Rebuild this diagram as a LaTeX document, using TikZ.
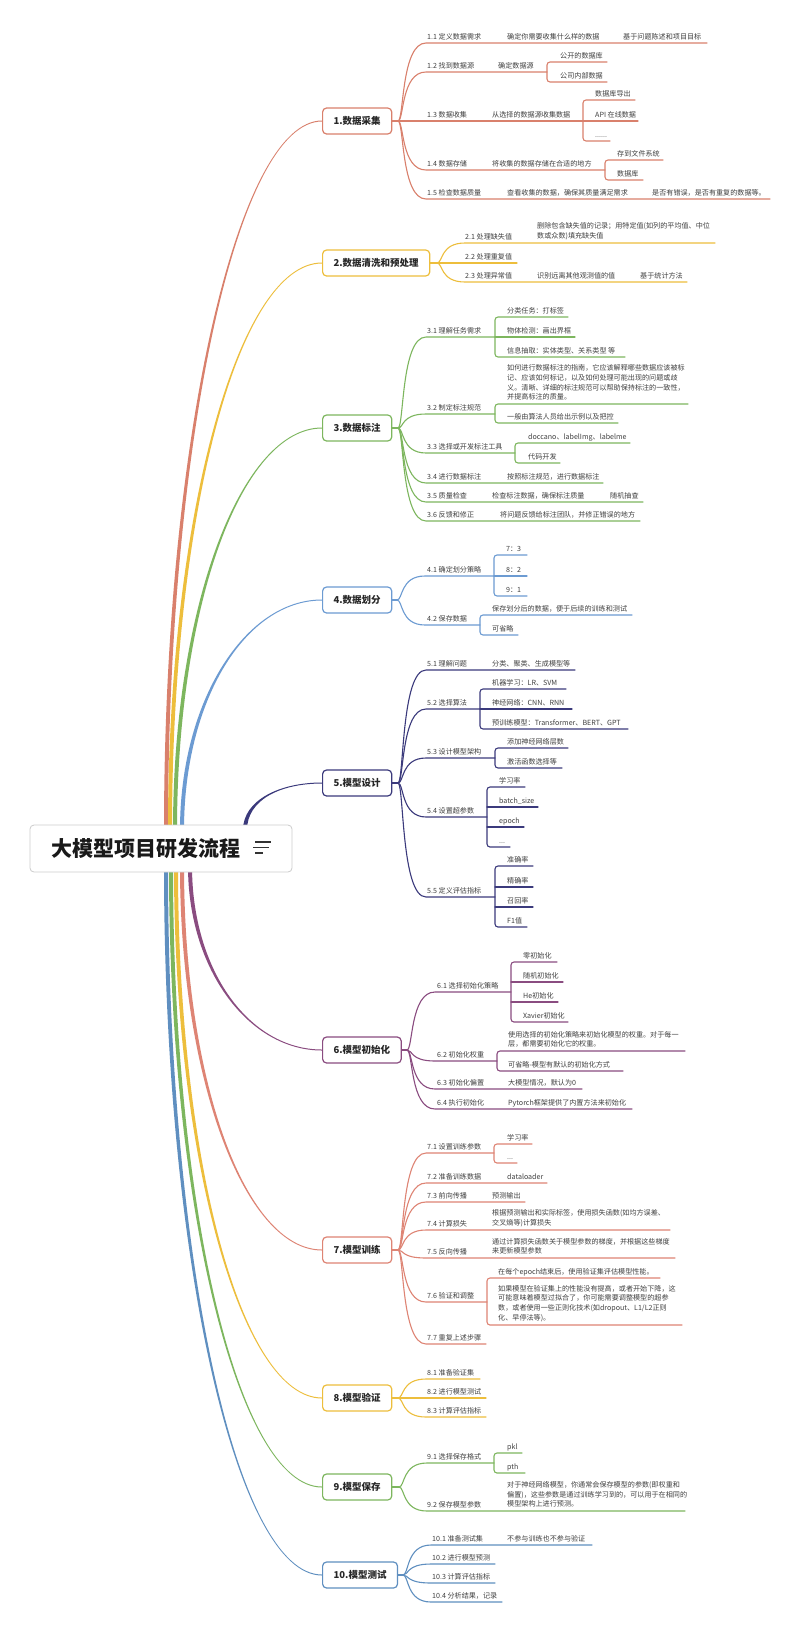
\documentclass[tikz,border=0pt]{standalone}
\usepackage{fontspec}
\setmainfont{Noto Sans CJK SC}
\usetikzlibrary{calc}
\definecolor{ca}{HTML}{D9806C}
\definecolor{cb}{HTML}{EDBE3C}
\definecolor{cc}{HTML}{7DB65E}
\definecolor{cd}{HTML}{6C9BD2}
\definecolor{ce}{HTML}{3B3A7C}
\definecolor{cf}{HTML}{8A4C80}
\definecolor{cg}{HTML}{DE8474}
\definecolor{ch}{HTML}{EDBE3C}
\definecolor{ci}{HTML}{7DB65E}
\definecolor{cj}{HTML}{5F8FC0}
\definecolor{txtc}{HTML}{404040}
\newcounter{tn}
\newcommand\mmBc[5]{\draw[ln,#1] ({#2},{#3}) .. controls ({#2+6},{#3}) and ({#2+3},{#4}) .. ({#2+28},{#4}) -- ({#5},{#4});}
\newcommand\mmBk[6]{\draw[ln,#1,rounded corners=3pt] ({#5},{#3}) -- ({#2},{#3}) -- ({#2},{#4}) -- ({#6},{#4});}
\newcommand\mmHl[4]{\draw[ln,#1] ({#2},{#4}) -- ({#3},{#4});}
\newcommand\mmTx[3]{\stepcounter{tn}\node[leaf] (t\thetn) at ({#1},{#2-4}) {#3};}
\newcommand\mmPx[3]{\stepcounter{tn}\node[para] (t\thetn) at ({#1},{#2-3.3}) {#3};}
\newcommand\mmCurve[8]{\fill[#1] ({#2-2},{#3}) .. controls ({#2-2},{#4}) and ({#5},{#6-(#8)}) .. ({#7},{#6-(#8)}) -- ({#7},{#6+(#8)}) .. controls ({#5},{#6+(#8)}) and ({#2+2},{#4}) .. ({#2+2},{#3}) -- cycle;}
\begin{document}
\begin{tikzpicture}[x=1pt,y=-1pt,
  leaf/.style={anchor=base west, inner sep=0pt, font=\fontsize{7.1}{9.7}\selectfont, text=txtc},
  para/.style={anchor=south west, inner sep=0pt, align=left, font=\fontsize{7.1}{9.7}\selectfont, text=txtc},
  ln/.style={line width=1.1pt, line cap=round},
  sbox/.style={draw=#1, line width=1.2pt, rounded corners=4pt, fill=white, minimum height=26pt, inner xsep=11pt, inner ysep=0pt, anchor=west, font=\fontsize{9.5}{11}\selectfont\bfseries, text=black!85}]
\fill[white] (0,0) rectangle (800,1633);
\useasboundingbox (0,0) rectangle (800,1633);

% main curves
\mmCurve{ca}{166}{830}{438}{238}{121}{322}{0.5}
\mmCurve{cb}{170}{830}{516}{238}{263}{322}{0.5}
\mmCurve{cc}{175}{830}{607}{241}{428}{322}{0.5}
\mmCurve{cd}{182}{830}{701}{245}{600}{322}{0.5}
\mmCurve{ce}{245}{830}{800}{280}{783}{322}{0.5}
\mmCurve{cf}{190}{866}{970}{249}{1050}{322}{-0.5}
\mmCurve{cg}{182}{866}{1080}{245}{1250}{322}{-0.5}
\mmCurve{ch}{176}{866}{1161}{242}{1398}{322}{-0.5}
\mmCurve{ci}{171}{866}{1210}{239}{1487}{322}{-0.5}
\mmCurve{cj}{166}{866}{1259}{236}{1575}{322}{-0.5}

% ===== section 1
\coordinate (j1) at (398,121);
\mmBc{ca}{398}{121}{43}{707}
\mmBc{ca}{398}{121}{72}{547}
\mmBk{ca}{547}{62}{82}{607}{607}
\mmBc{ca}{398}{121}{121}{583}
\mmBk{ca}{583}{100}{141}{635}{610}
\mmHl{ca}{583}{638}{121}
\mmBc{ca}{398}{121}{170}{605}
\mmBk{ca}{605}{160}{180}{663}{643}
\mmBc{ca}{398}{121}{199}{770}
% ===== section 2
\coordinate (j2) at (437,263);
\mmBc{cb}{437}{263}{243}{715}
\mmBc{cb}{437}{263}{263}{517}
\mmBc{cb}{437}{263}{282}{687}
% ===== section 3
\coordinate (j3) at (398,428);
\mmBc{cc}{398}{428}{337}{495}
\mmBk{cc}{495}{317}{357}{568}{625}
\mmHl{cc}{495}{575}{337}
\mmBc{cc}{398}{428}{414}{495}
\mmBk{cc}{495}{404}{423}{688}{618}
\mmBc{cc}{398}{428}{453}{515}
\mmBk{cc}{515}{443}{463}{630}{560}
\mmBc{cc}{398}{428}{483}{603}
\mmBc{cc}{398}{428}{502}{643}
\mmBc{cc}{398}{428}{521}{640}
% ===== section 4
\coordinate (j4) at (397,600);
\mmBc{cd}{397}{600}{576}{494}
\mmBk{cd}{494}{555}{596}{527}{527}
\mmHl{cd}{494}{527}{576}
\mmBc{cd}{397}{600}{625}{480}
\mmBk{cd}{480}{615}{635}{632}{518}
% ===== section 5
\coordinate (j5) at (398,783);
\mmBc{ce}{398}{783}{670}{575}
\mmBc{ce}{398}{783}{709}{480}
\mmBk{ce}{480}{689}{729}{566}{628}
\mmHl{ce}{480}{572}{709}
\mmBc{ce}{398}{783}{758}{495}
\mmBk{ce}{495}{748}{768}{568}{562}
\mmBc{ce}{398}{783}{817}{487}
\mmBk{ce}{487}{787}{847}{525}{510}
\mmHl{ce}{487}{538}{807}
\mmHl{ce}{487}{524}{827}
\mmBc{ce}{398}{783}{897}{495}
\mmBk{ce}{495}{866}{927}{533}{527}
\mmHl{ce}{495}{533}{887}
\mmHl{ce}{495}{533}{907}
% ===== section 6
\coordinate (j6) at (407,1050);
\mmBc{cf}{407}{1050}{992}{511}
\mmBk{cf}{511}{962}{1022}{557}{568}
\mmHl{cf}{511}{563}{982}
\mmHl{cf}{511}{558}{1002}
\mmBc{cf}{407}{1050}{1061}{497}
\mmBk{cf}{497}{1051}{1071}{685}{623}
\mmBc{cf}{407}{1050}{1089}{582}
\mmBc{cf}{407}{1050}{1109}{632}
% ===== section 7
\coordinate (j7) at (398,1250);
\mmBc{cg}{398}{1250}{1153}{494}
\mmBk{cg}{494}{1144}{1163}{532}{517}
\mmBc{cg}{398}{1250}{1183}{547}
\mmBc{cg}{398}{1250}{1202}{525}
\mmBc{cg}{398}{1250}{1230}{670}
\mmBc{cg}{398}{1250}{1258}{675}
\mmBc{cg}{398}{1250}{1302}{487}
\mmBk{cg}{487}{1278}{1325}{660}{682}
\mmBc{cg}{398}{1250}{1344}{486}
% ===== section 8
\coordinate (j8) at (398,1398);
\mmBc{ch}{398}{1398}{1379}{480}
\mmBc{ch}{398}{1398}{1398}{486}
\mmBc{ch}{398}{1398}{1417}{486}
% ===== section 9
\coordinate (j9) at (399,1487);
\mmBc{ci}{399}{1487}{1463}{494}
\mmBk{ci}{494}{1453}{1473}{522}{525}
\mmBc{ci}{399}{1487}{1511}{685}
% ===== section 10
\coordinate (j10) at (403,1575);
\mmBc{cj}{403}{1575}{1545}{592}
\mmBc{cj}{403}{1575}{1564}{495}
\mmBc{cj}{403}{1575}{1583}{495}
\mmBc{cj}{403}{1575}{1602}{502}

% ===== boxes
\node[sbox=ca] (s1) at (322,121) {1.数据采集};
\node[sbox=cb] (s2) at (322,263) {2.数据清洗和预处理};
\node[sbox=cc] (s3) at (322,428) {3.数据标注};
\node[sbox=cd] (s4) at (322,600) {4.数据划分};
\node[sbox=ce] (s5) at (322,783) {5.模型设计};
\node[sbox=cf] (s6) at (322,1050) {6.模型初始化};
\node[sbox=cg] (s7) at (322,1250) {7.模型训练};
\node[sbox=ch] (s8) at (322,1398) {8.模型验证};
\node[sbox=ci] (s9) at (322,1487) {9.模型保存};
\node[sbox=cj] (s10) at (322,1575) {10.模型测试};
\draw[ln,ca] (s1.east) -- (j1);
\draw[ln,cb] (s2.east) -- (j2);
\draw[ln,cc] (s3.east) -- (j3);
\draw[ln,cd] (s4.east) -- (j4);
\draw[ln,ce] (s5.east) -- (j5);
\draw[ln,cf] (s6.east) -- (j6);
\draw[ln,cg] (s7.east) -- (j7);
\draw[ln,ch] (s8.east) -- (j8);
\draw[ln,ci] (s9.east) -- (j9);
\draw[ln,cj] (s10.east) -- (j10);

% root
\node[draw=gray!40, line width=0.8pt, rounded corners=4pt, fill=white, minimum width=262pt, minimum height=47pt, inner sep=0pt] (root) at (161,848.5) {};
\node[font=\fontsize{21}{24}\selectfont\bfseries, text=black!90, inner sep=0pt] (rtext) at (146,848.5) {大模型项目研发流程};
\draw[line width=1.4pt, black!80] (255,842) -- (271,842) (253,847.5) -- (269,847.5) (255,853) -- (263,853);

% ===== texts section 1
\mmTx{427}{43}{1.1 定义数据需求}
\mmTx{507}{43}{确定你需要收集什么样的数据}
\mmTx{623}{43}{基于问题陈述和项目目标}
\mmTx{427}{72}{1.2 找到数据源}
\mmTx{498}{72}{确定数据源}
\mmTx{560}{62}{公开的数据库}
\mmTx{560}{82}{公司内部数据}
\mmTx{427}{121}{1.3 数据收集}
\mmTx{492}{121}{从选择的数据源收集数据}
\mmTx{595}{100}{数据库导出}
\mmTx{595}{121}{API 在线数据}
\mmTx{595}{141}{......}
\mmTx{427}{170}{1.4 数据存储}
\mmTx{492}{170}{将收集的数据存储在合适的地方}
\mmTx{617}{160}{存到文件系统}
\mmTx{617}{180}{数据库}
\mmTx{427}{199}{1.5 检查数据质量}
\mmTx{507}{199}{查看收集的数据，确保其质量满足需求}
\mmTx{652}{199}{是否有错误，是否有重复的数据等。}
% section 2
\mmTx{465}{243}{2.1 处理缺失值}
\mmPx{537}{243}{删除包含缺失值的记录；用特定值(如列的平均值、中位\\数或众数)填充缺失值}
\mmTx{465}{263}{2.2 处理重复值}
\mmTx{465}{282}{2.3 处理异常值}
\mmTx{537}{282}{识别远离其他观测值的值}
\mmTx{640}{282}{基于统计方法}
% section 3
\mmTx{427}{337}{3.1 理解任务需求}
\mmTx{507}{317}{分类任务：打标签}
\mmTx{507}{337}{物体检测：画出界框}
\mmTx{507}{357}{信息抽取：实体类型、关系类型 等}
\mmTx{427}{414}{3.2 制定标注规范}
\mmPx{507}{404}{如何进行数据标注的指南，它应该解释哪些数据应该被标\\记、应该如何标记，以及如何处理可能出现的问题或歧\\义。清晰、详细的标注规范可以帮助保持标注的一致性，\\并提高标注的质量。}
\mmTx{507}{423}{一般由算法人员给出示例以及把控}
\mmTx{427}{453}{3.3 选择或开发标注工具}
\mmTx{528}{443}{doccano、labelImg、labelme}
\mmTx{528}{463}{代码开发}
\mmTx{427}{483}{3.4 进行数据标注}
\mmTx{507}{483}{按照标注规范，进行数据标注}
\mmTx{427}{502}{3.5 质量检查}
\mmTx{492}{502}{检查标注数据，确保标注质量}
\mmTx{610}{502}{随机抽查}
\mmTx{427}{521}{3.6 反馈和修正}
\mmTx{500}{521}{将问题反馈给标注团队，并修正错误的地方}
% section 4
\mmTx{427}{576}{4.1 确定划分策略}
\mmTx{506}{555}{7：3}
\mmTx{506}{576}{8：2}
\mmTx{506}{596}{9：1}
\mmTx{427}{625}{4.2 保存数据}
\mmTx{492}{615}{保存划分后的数据，便于后续的训练和测试}
\mmTx{492}{635}{可省略}
% section 5
\mmTx{427}{670}{5.1 理解问题}
\mmTx{492}{670}{分类、聚类、生成模型等}
\mmTx{427}{709}{5.2 选择算法}
\mmTx{492}{689}{机器学习：LR、SVM}
\mmTx{492}{709}{神经网络：CNN、RNN}
\mmTx{492}{729}{预训练模型：Transformer、BERT、GPT}
\mmTx{427}{758}{5.3 设计模型架构}
\mmTx{507}{748}{添加神经网络层数}
\mmTx{507}{768}{激活函数选择等}
\mmTx{427}{817}{5.4 设置超参数}
\mmTx{499}{787}{学习率}
\mmTx{499}{807}{batch\_size}
\mmTx{499}{827}{epoch}
\mmTx{499}{847}{...}
\mmTx{427}{897}{5.5 定义评估指标}
\mmTx{507}{866}{准确率}
\mmTx{507}{887}{精确率}
\mmTx{507}{907}{召回率}
\mmTx{507}{927}{F1值}
% section 6
\mmTx{437}{992}{6.1 选择初始化策略}
\mmTx{523}{962}{零初始化}
\mmTx{523}{982}{随机初始化}
\mmTx{523}{1002}{He初始化}
\mmTx{523}{1022}{Xavier初始化}
\mmTx{437}{1061}{6.2 初始化权重}
\mmPx{508}{1051}{使用选择的初始化策略来初始化模型的权重。对于每一\\层，都需要初始化它的权重。}
\mmTx{508}{1071}{可省略-模型有默认的初始化方式}
\mmTx{437}{1089}{6.3 初始化偏置}
\mmTx{508}{1089}{大模型情况，默认为0}
\mmTx{437}{1109}{6.4 执行初始化}
\mmTx{508}{1109}{Pytorch框架提供了内置方法来初始化}
% section 7
\mmTx{427}{1153}{7.1 设置训练参数}
\mmTx{507}{1144}{学习率}
\mmTx{507}{1163}{...}
\mmTx{427}{1183}{7.2 准备训练数据}
\mmTx{507}{1183}{dataloader}
\mmTx{427}{1202}{7.3 前向传播}
\mmTx{492}{1202}{预测输出}
\mmTx{427}{1230}{7.4 计算损失}
\mmPx{492}{1230}{根据预测输出和实际标签，使用损失函数(如均方误差、\\交叉熵等)计算损失}
\mmTx{427}{1258}{7.5 反向传播}
\mmPx{492}{1258}{通过计算损失函数关于模型参数的梯度，并根据这些梯度\\来更新模型参数}
\mmTx{427}{1302}{7.6 验证和调整}
\mmTx{498}{1278}{在每个epoch结束后，使用验证集评估模型性能。}
\mmPx{498}{1325}{如果模型在验证集上的性能没有提高，或者开始下降，这\\可能意味着模型过拟合了，你可能需要调整模型的超参\\数，或者使用一些正则化技术(如dropout、L1/L2正则\\化、早停法等)。}
\mmTx{427}{1344}{7.7 重复上述步骤}
% section 8
\mmTx{427}{1379}{8.1 准备验证集}
\mmTx{427}{1398}{8.2 进行模型测试}
\mmTx{427}{1417}{8.3 计算评估指标}
% section 9
\mmTx{427}{1463}{9.1 选择保存格式}
\mmTx{507}{1453}{pkl}
\mmTx{507}{1473}{pth}
\mmTx{427}{1511}{9.2 保存模型参数}
\mmPx{507}{1511}{对于神经网络模型，你通常会保存模型的参数(即权重和\\偏置)，这些参数是通过训练学习到的，可以用于在相同的\\模型架构上进行预测。}
% section 10
\mmTx{432}{1545}{10.1 准备测试集}
\mmTx{507}{1545}{不参与训练也不参与验证}
\mmTx{432}{1564}{10.2 进行模型预测}
\mmTx{432}{1583}{10.3 计算评估指标}
\mmTx{432}{1602}{10.4 分析结果，记录}
\end{tikzpicture}
\end{document}
